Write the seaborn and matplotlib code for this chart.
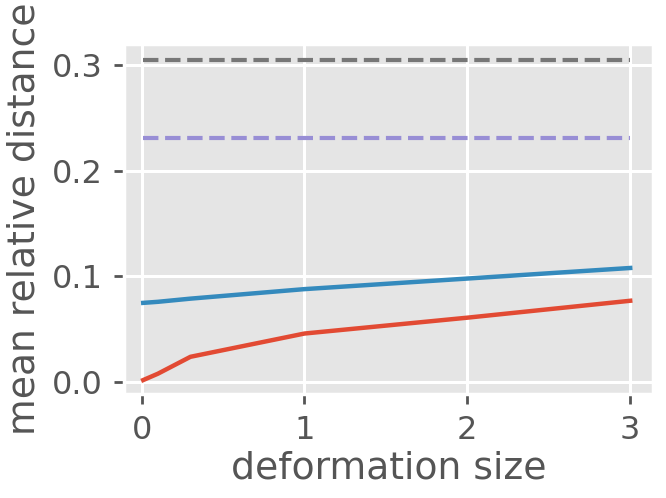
import numpy as np
import pandas as pd
import matplotlib
matplotlib.use('Agg')
import matplotlib.pyplot as plt
import seaborn as sns

# values
deform = [0.01, 0.1, 0.3, 1.0, 2.0, 3.0]
blue_vals = [0.075, 0.076, 0.079, 0.088, 0.098, 0.108]
red_vals = [0.002, 0.008, 0.024, 0.046, 0.061, 0.077]
gray_level = 0.305
purple_level = 0.231

plt.style.use('ggplot')
plt.rcParams['font.family'] = ['DejaVu Sans']

fig = plt.figure(figsize=(6.66, 4.98), dpi=100)
ax = fig.add_axes([0.1862, 0.2088, 0.7943, 0.7028])

df = pd.DataFrame({'x': deform, 'blue': blue_vals, 'red': red_vals,
                   'gray': [gray_level] * len(deform),
                   'purple': [purple_level] * len(deform)})

sns.lineplot(data=df, x='x', y='gray', ax=ax, color='#777777', lw=3, linestyle='--')
sns.lineplot(data=df, x='x', y='purple', ax=ax, color='#988ED5', lw=3, linestyle='--')
sns.lineplot(data=df, x='x', y='blue', ax=ax, color='#348ABD', lw=3.2)
sns.lineplot(data=df, x='x', y='red', ax=ax, color='#E24A33', lw=3.2)

ax.set_xlim(-0.108, 3.14)
ax.set_ylim(-0.0112, 0.3198)
ax.set_xticks([0, 1, 2, 3])
ax.set_yticks([0.0, 0.1, 0.2, 0.3])
ax.set_yticklabels(['0.0', '0.1', '0.2', '0.3'])
ax.grid(True, color='white', lw=2.2)
for s in ax.spines.values():
    s.set_linewidth(2.5)
ax.tick_params(labelsize=23, colors='#555555', length=7, width=2, pad=8)
ax.set_xlabel('deformation size', fontsize=27.2, color='#555555', labelpad=3)
ax.set_ylabel('mean relative distance', fontsize=27.2, color='#555555', labelpad=7)

fig.savefig('out.png', dpi=100)
